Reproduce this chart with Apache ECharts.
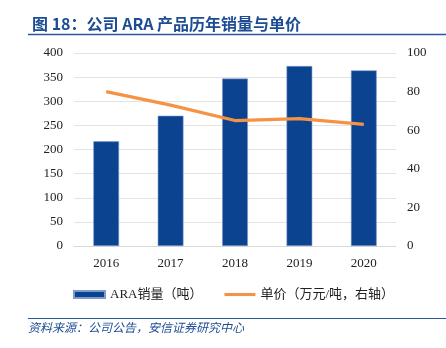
<!DOCTYPE html>
<html><head><meta charset="utf-8">
<script src="https://cdn.jsdelivr.net/npm/echarts@6/dist/echarts.min.js"></script>
<style>html,body{margin:0;padding:0;background:#fff}#c{width:446px;height:348px}</style>
</head><body><div id="c"></div>
<script>
const categories = ['2016','2017','2018','2019','2020'];
const salesTons = [217, 270, 347, 373, 364];
const unitPrice = [80, 73, 65, 66, 63];
const leftTicks = [0, 400, 50];
const rightTicks = [0, 100, 20];

const chart = echarts.init(document.getElementById('c'));
const serif = '"Liberation Serif", "Noto Sans CJK SC", serif';
chart.setOption({
  animation: false,
  backgroundColor: '#fff',
  title: {
    text: '图 18：公司 ARA 产品历年销量与单价',
    left: 27, top: 11,
    textStyle: {fontFamily: '"Noto Sans CJK SC"', fontSize: 16, fontWeight: 'bold', color: '#1D4C94'}
  },
  graphic: [
    {type: 'line', shape: {x1: 28, y1: 34.5, x2: 446, y2: 34.5}, style: {stroke: '#2A56A0', lineWidth: 1.5}},
    {type: 'line', shape: {x1: 28, y1: 318.5, x2: 446, y2: 318.5}, style: {stroke: '#2A56A0', lineWidth: 1}},
    {type: 'text', left: 28, top: 321, style: {text: '资料来源：公司公告，安信证券研究中心', fontFamily: '"Noto Sans CJK SC"', fontSize: 12, fontStyle: 'italic', fill: '#1D4C94'}}
  ],
  grid: {left: 74, right: 50, top: 53, bottom: 102},
  legend: {
    top: 283, left: 68,
    itemGap: 22, itemWidth: 31, itemHeight: 7,
    textStyle: {fontFamily: serif, fontSize: 13, color: '#222'},
    data: [
      {name: 'ARA销量（吨）', icon: 'rect'},
      {name: '单价（万元/吨，右轴）', icon: 'path://M0,0H32V3.2H0Z'}
    ]
  },
  xAxis: {
    type: 'category', data: categories,
    axisTick: {show: false},
    axisLine: {lineStyle: {color: '#D9D9D9', width: 1}},
    axisLabel: {fontFamily: serif, fontSize: 13, color: '#222', margin: 11}
  },
  yAxis: [
    {type: 'value', min: leftTicks[0], max: leftTicks[1], interval: leftTicks[2],
     axisLine: {show: false}, axisTick: {show: false},
     splitLine: {lineStyle: {color: '#E3E3E3', width: 1}},
     axisLabel: {fontFamily: serif, fontSize: 13, color: '#222', margin: 11}},
    {type: 'value', min: rightTicks[0], max: rightTicks[1], interval: rightTicks[2],
     axisLine: {show: false}, axisTick: {show: false}, splitLine: {show: false},
     axisLabel: {fontFamily: serif, fontSize: 13, color: '#222', margin: 11}}
  ],
  series: [
    {name: 'ARA销量（吨）', type: 'bar', data: salesTons, barWidth: '40%',
     itemStyle: {color: '#0B4391', borderColor: '#7D9CCB', borderWidth: 0.6}},
    {name: '单价（万元/吨，右轴）', type: 'line', yAxisIndex: 1, data: unitPrice,
     symbol: 'none', lineStyle: {color: '#F59243', width: 3.2}, itemStyle: {color: '#F59243'}}
  ]
});
</script></body></html>
